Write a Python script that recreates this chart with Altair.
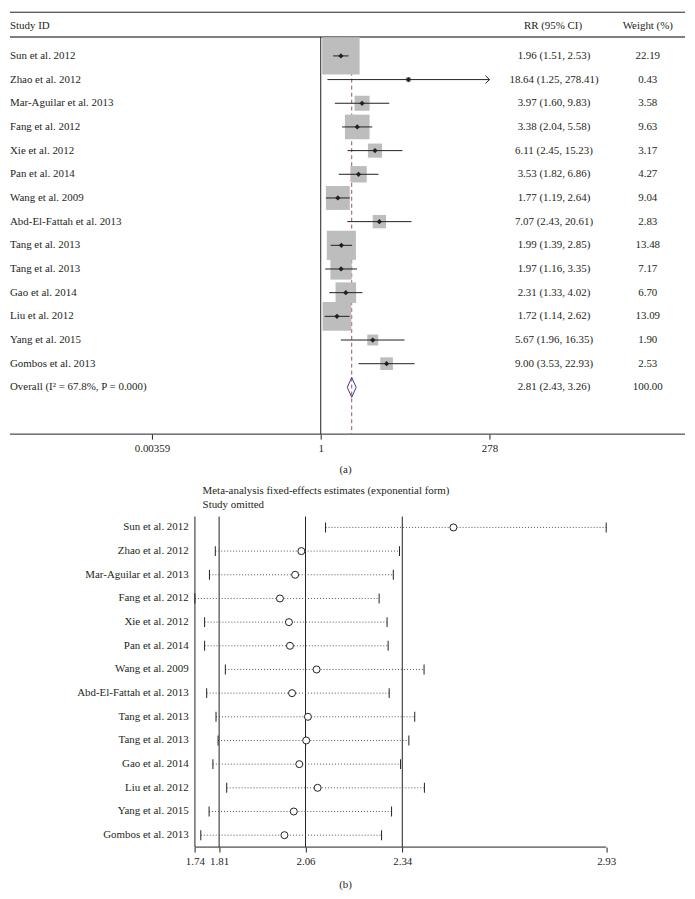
import altair as alt
import pandas as pd

# ---------------- data ----------------
studies = ["Sun et al. 2012", "Zhao et al. 2012", "Mar-Aguilar et al. 2013", "Fang et al. 2012",
           "Xie et al. 2012", "Pan et al. 2014", "Wang et al. 2009", "Abd-El-Fattah et al. 2013",
           "Tang et al. 2013", "Tang et al. 2013", "Gao et al. 2014", "Liu et al. 2012",
           "Yang et al. 2015", "Gombos et al. 2013"]
rr = [1.96, 18.64, 3.97, 3.38, 6.11, 3.53, 1.77, 7.07, 1.99, 1.97, 2.31, 1.72, 5.67, 9.00]
rr_lo = [1.51, 1.25, 1.60, 2.04, 2.45, 1.82, 1.19, 2.43, 1.39, 1.16, 1.33, 1.14, 1.96, 3.53]
rr_hi = [2.53, 278.41, 9.83, 5.58, 15.23, 6.86, 2.64, 20.61, 2.85, 3.35, 4.02, 2.62, 16.35, 22.93]
weights = [22.19, 0.43, 3.58, 9.63, 3.17, 4.27, 9.04, 2.83, 13.48, 7.17, 6.70, 13.09, 1.90, 2.53]
overall_label = "Overall (I² = 67.8%, P = 0.000)"
overall_rr, overall_lo, overall_hi, overall_w = 2.81, 2.43, 3.26, 100.00
headers_a = ["Study ID", "RR (95% CI)", "Weight (%)"]
ticks_a = [0.00359, 1, 278]
panel_labels = ["(a)", "(b)"]

title_b = ["Meta-analysis fixed-effects estimates (exponential form)", "Study omitted"]
omit_est = [2.488, 2.048, 2.030, 1.986, 2.012, 2.015, 2.092, 2.021, 2.067, 2.062, 2.042, 2.095, 2.026, 1.999]
omit_lo = [2.118, 1.799, 1.782, 1.740, 1.768, 1.768, 1.828, 1.774, 1.801, 1.807, 1.792, 1.832, 1.781, 1.757]
omit_hi = [2.930, 2.332, 2.314, 2.273, 2.296, 2.299, 2.403, 2.302, 2.376, 2.359, 2.335, 2.404, 2.309, 2.280]
ref_lines_b = [1.74, 1.81, 2.06, 2.34]
ticks_b = [1.74, 1.81, 2.06, 2.34, 2.93]

# ---------------- style ----------------
FONT = "Liberation Serif"
INK = "#231f20"
W = 680
HA = 425
HB = 369
TS = dict(font=FONT, fontSize=11, color=INK)

# ---------------- tables ----------------
n = len(studies)
df_a = pd.DataFrame({"row": list(range(n)), "study": studies, "rr": rr, "lo": rr_lo,
                     "hi": rr_hi, "w": weights})
df_o = pd.DataFrame({"row": [n], "study": [overall_label], "rr": [overall_rr],
                     "lo": [overall_lo], "hi": [overall_hi], "w": [overall_w]})
df_txt = pd.concat([df_a, df_o], ignore_index=True)
df_txt["rr_txt"] = [f"{a:.2f} ({b:.2f}, {c:.2f})" for a, b, c in
                    zip(df_txt["rr"], df_txt["lo"], df_txt["hi"])]
df_txt["w_txt"] = [f"{w:.2f}" for w in df_txt["w"]]
one = pd.DataFrame({"k": [0]})

df_b = pd.DataFrame({"row": list(range(n)), "study": studies, "est": omit_est,
                     "lo": omit_lo, "hi": omit_hi})
df_ref = pd.DataFrame({"v": ref_lines_b})

# ---------------- panel (a) ----------------
xa = alt.Scale(type="log", domain=[ticks_a[0], ticks_a[-1]], range=[143, 483], nice=False)
ya = alt.Scale(domain=[0, n], range=[44, 377.9], nice=False, zero=False)
axa = alt.Axis(values=ticks_a, format="~g", title=None, grid=False, domain=False, tickSize=5,
               labelPadding=4, labelFlush=False, labelOverlap=False)

top_rule = alt.Chart(one).mark_rule(color=INK, strokeWidth=1).encode(
    x=alt.value(0), x2=alt.value(W), y=alt.value(0))
head_rule = alt.Chart(one).mark_rule(color="#555555", strokeWidth=1.5).encode(
    x=alt.value(0), x2=alt.value(W), y=alt.value(25))
bottom_rule = alt.Chart(one).mark_rule(color=INK, strokeWidth=1).encode(
    x=alt.value(0), x2=alt.value(W), y=alt.value(HA))
h1 = alt.Chart(one).mark_text(align="left", baseline="middle", **TS).encode(
    x=alt.value(0), y=alt.value(14), text=alt.value(headers_a[0]))
h2 = alt.Chart(one).mark_text(align="center", baseline="middle", **TS).encode(
    x=alt.value(547), y=alt.value(14), text=alt.value(headers_a[1]))
h3 = alt.Chart(one).mark_text(align="center", baseline="middle", **TS).encode(
    x=alt.value(642.5), y=alt.value(14), text=alt.value(headers_a[2]))

null_line = alt.Chart(one).mark_rule(color=INK, strokeWidth=1).encode(
    x=alt.XDatum(ticks_a[1], type="quantitative", scale=xa, axis=axa),
    y=alt.value(25), y2=alt.value(HA))
overall_line = alt.Chart(one).mark_rule(color="#a0505c", strokeWidth=1, strokeDash=[4, 3]).encode(
    x=alt.XDatum(overall_rr, type="quantitative", scale=xa, axis=axa),
    y=alt.value(25), y2=alt.value(HA))

boxes = alt.Chart(df_a).mark_square(color="#bdbdbd", opacity=1).encode(
    x=alt.X("rr:Q", scale=xa, axis=axa),
    y=alt.Y("row:Q", scale=ya, axis=None),
    size=alt.Size("w:Q", scale=alt.Scale(domain=[0, 25], range=[0, 1600]), legend=None))
ci = alt.Chart(df_a).transform_calculate(
    hi_c=f"min(datum.hi, {ticks_a[-1]})").mark_rule(color=INK, strokeWidth=1).encode(
    x=alt.X("lo:Q", scale=xa, axis=axa), x2="hi_c:Q",
    y=alt.Y("row:Q", scale=ya, axis=None))
dots = alt.Chart(df_a).mark_point(shape="diamond", filled=True, color=INK, size=28, opacity=1).encode(
    x=alt.X("rr:Q", scale=xa, axis=axa), y=alt.Y("row:Q", scale=ya, axis=None))
arrow = alt.Chart(df_a).transform_filter(f"datum.hi > {ticks_a[-1]}").transform_calculate(
    hi_c=f"min(datum.hi, {ticks_a[-1]})").mark_point(
    shape="M-1,-1L0,0L-1,1", filled=False, stroke=INK, strokeWidth=1, size=64, opacity=1).encode(
    x=alt.X("hi_c:Q", scale=xa, axis=axa), y=alt.Y("row:Q", scale=ya, axis=None))
diamond = alt.Chart(df_o).mark_point(
    shape="M0,-1L0.45,0L0,1L-0.45,0Z", filled=False, stroke="#3a3a8c", strokeWidth=1,
    size=400, opacity=1).encode(
    x=alt.X("rr:Q", scale=xa, axis=axa), y=alt.Y("row:Q", scale=ya, axis=None))

names_a = alt.Chart(df_txt).mark_text(align="left", baseline="middle", **TS).encode(
    x=alt.value(0), y=alt.Y("row:Q", scale=ya, axis=None), text="study:N")
rr_col = alt.Chart(df_txt).mark_text(align="center", baseline="middle", **TS).encode(
    x=alt.value(548), y=alt.Y("row:Q", scale=ya, axis=None), text="rr_txt:N")
w_col = alt.Chart(df_txt).mark_text(align="center", baseline="middle", **TS).encode(
    x=alt.value(642.5), y=alt.Y("row:Q", scale=ya, axis=None), text="w_txt:N")
lab_a = alt.Chart(one).mark_text(align="center", baseline="middle", **TS).encode(
    x=alt.value(338), y=alt.value(461), text=alt.value(panel_labels[0]))

panel_a = alt.layer(top_rule, head_rule, bottom_rule, h1, h2, h3, overall_line, null_line, boxes,
                    ci, dots, arrow, diamond, names_a, rr_col, w_col, lab_a).properties(
    width=W, height=HA)

# ---------------- panel (b) ----------------
xb = alt.Scale(domain=[ticks_b[0], ticks_b[-1]], range=[186.3, 600.6], nice=False, zero=False)
yb = alt.Scale(domain=[0, n - 1], range=[47, 357], nice=False, zero=False)
axb = alt.Axis(values=ticks_b, format=".2f", title=None, grid=False, domain=False, tickSize=5,
               labelPadding=4, labelFlush=False, labelOverlap=False)

t1 = alt.Chart(one).mark_text(align="left", baseline="middle", **TS).encode(
    x=alt.value(194), y=alt.value(10), text=alt.value(title_b[0]))
t2 = alt.Chart(one).mark_text(align="left", baseline="middle", **TS).encode(
    x=alt.value(194), y=alt.value(24), text=alt.value(title_b[1]))
refs = alt.Chart(df_ref).mark_rule(color=INK, strokeWidth=1).encode(
    x=alt.X("v:Q", scale=xb, axis=axb), y=alt.value(36), y2=alt.value(HB))
base_b = alt.Chart(one).mark_rule(color=INK, strokeWidth=1).encode(
    x=alt.XDatum(ticks_b[0], type="quantitative", scale=xb, axis=axb),
    x2=alt.X2Datum(ticks_b[-1]), y=alt.value(HB))
dotted = alt.Chart(df_b).mark_rule(color="#555555", strokeWidth=1, strokeDash=[1, 2]).encode(
    x=alt.X("lo:Q", scale=xb, axis=axb), x2="hi:Q", y=alt.Y("row:Q", scale=yb, axis=None))
tick_lo = alt.Chart(df_b).mark_tick(orient="vertical", size=10, thickness=1, color=INK, opacity=1).encode(
    x=alt.X("lo:Q", scale=xb, axis=axb), y=alt.Y("row:Q", scale=yb, axis=None))
tick_hi = alt.Chart(df_b).mark_tick(orient="vertical", size=10, thickness=1, color=INK, opacity=1).encode(
    x=alt.X("hi:Q", scale=xb, axis=axb), y=alt.Y("row:Q", scale=yb, axis=None))
circles = alt.Chart(df_b).mark_point(shape="circle", filled=True, fill="white", stroke=INK,
                                     strokeWidth=1, size=50, opacity=1).encode(
    x=alt.X("est:Q", scale=xb, axis=axb), y=alt.Y("row:Q", scale=yb, axis=None))
names_b = alt.Chart(df_b).mark_text(align="right", baseline="middle", **TS).encode(
    x=alt.value(180), y=alt.Y("row:Q", scale=yb, axis=None), text="study:N")
lab_b = alt.Chart(one).mark_text(align="center", baseline="middle", **TS).encode(
    x=alt.value(338), y=alt.value(407), text=alt.value(panel_labels[1]))

panel_b = alt.layer(t1, t2, refs, base_b, dotted, tick_lo, tick_hi, circles, names_b,
                    lab_b).properties(width=W, height=HB)

chart = alt.vconcat(panel_a, panel_b, spacing=47, bounds="flush").properties(
    padding=0).configure_view(stroke="transparent").configure_axis(
    labelFont=FONT, labelFontSize=11, labelColor=INK, tickColor=INK, domainColor=INK,
    tickWidth=1, domainWidth=1)

chart.save("out.html", embed_options={"renderer": "svg", "actions": False})
